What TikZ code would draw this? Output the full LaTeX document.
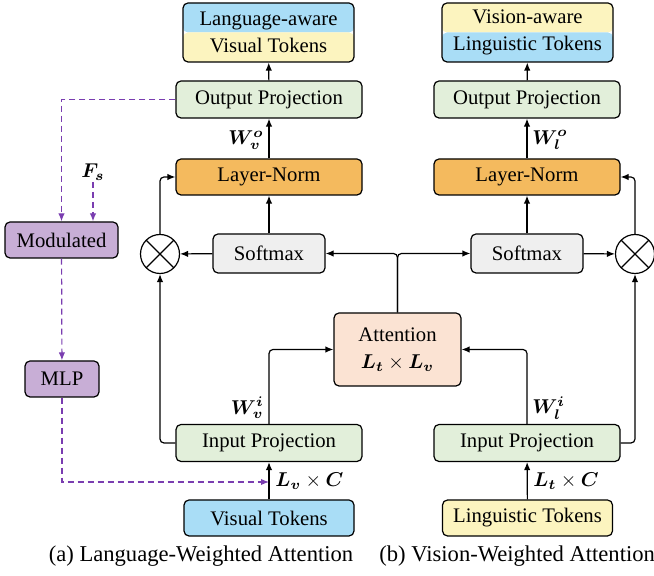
\documentclass[tikz,border=0pt]{standalone}
\usepackage{amsmath}
\usepackage{bm}
\usepackage{fontspec}
\setmainfont{Liberation Serif}
\usetikzlibrary{arrows.meta,calc}

\definecolor{tokblue}{HTML}{A9DDF6}
\definecolor{tokyellow}{HTML}{FCF4BF}
\definecolor{projgreen}{HTML}{E2EFDA}
\definecolor{normorange}{HTML}{F4BA5E}
\definecolor{softgray}{HTML}{EFEFEF}
\definecolor{attnpeach}{HTML}{FBE3D3}
\definecolor{modpurple}{HTML}{C8AED6}
\definecolor{dashpurple}{HTML}{7A3DB0}

\tikzset{
    blk/.style={draw, line width=0.6pt, rounded corners=2.5pt, align=center,
        inner sep=0pt, font=\fontsize{10.35}{13.5}\selectfont},
    proj/.style={blk, fill=projgreen, minimum width=93pt, minimum height=18.5pt},
    lnorm/.style={blk, fill=normorange, minimum width=93pt, minimum height=18pt},
    smax/.style={blk, fill=softgray, minimum width=56pt, minimum height=19.5pt},
    tok/.style={blk, minimum width=85pt, minimum height=18pt},
    outtok/.style={blk, minimum width=85.5pt, minimum height=29.5pt},
    modbox/.style={blk, fill=modpurple, minimum height=18pt},
    mulnode/.style={draw, circle, line width=0.6pt, minimum size=19.5pt, inner sep=0pt,
        path picture={\draw[line width=0.6pt] (path picture bounding box.north west) -- (path picture bounding box.south east)
            (path picture bounding box.north east) -- (path picture bounding box.south west);}},
    arr/.style={-{Latex[length=4pt,width=3.2pt]}, line width=0.6pt, rounded corners=2pt},
    dasharr/.style={-{Latex[length=4pt,width=3.2pt]}, line width=0.6pt, dash pattern=on 3pt off 2pt, dashpurple},
    lbl/.style={font=\fontsize{10.35}{12}\selectfont, inner sep=0.5pt}
}

\begin{document}
\begin{tikzpicture}[x=0.5pt,y=-0.5pt]
                \useasboundingbox (0,0) rectangle (654,576);
                \clip (0,0) rectangle (654,576);

                \node[outtok, path picture={\fill[tokblue] (path picture bounding box.north west) rectangle (path picture bounding box.east);
                    \fill[tokyellow] (path picture bounding box.west) rectangle (path picture bounding box.south east);}]
                    (outL) at (268.5,32.5) {Language-aware\\Visual Tokens};
                \node[outtok, path picture={\fill[tokyellow] (path picture bounding box.north west) rectangle (path picture bounding box.east);
                    \fill[tokblue] (path picture bounding box.west) rectangle (path picture bounding box.south east);}]
                    (outR) at (527.5,32.5) {Vision-aware\\Linguistic Tokens};

                \node[proj] (oprojL) at (269,99.5) {Output Projection};
                \node[proj] (oprojR) at (527,99.5) {Output Projection};
                \node[lnorm] (lnL) at (269,177) {Layer-Norm};
                \node[lnorm] (lnR) at (527,177) {Layer-Norm};
                \node[smax] (softL) at (269,253.5) {Softmax};
                \node[smax] (softR) at (527,253.5) {Softmax};
                \node[mulnode] (mulL) at (160,254) {};
                \node[mulnode] (mulR) at (635,254) {};
                \node[blk, fill=attnpeach, minimum width=63.5pt, minimum height=36.5pt] (attn) at (397.5,349.5)
                    {Attention\\$\bm{L_t}\times\bm{L_v}$};
                \node[proj] (iprojL) at (269,443) {Input Projection};
                \node[proj] (iprojR) at (527,443) {Input Projection};
                \node[tok, fill=tokblue] (vtok) at (269,518) {Visual Tokens};
                \node[tok, fill=tokyellow] (ltok) at (527.5,518) {Linguistic Tokens};

                \node[modbox, minimum width=56.5pt] (mod) at (61.5,240) {Modulated};
                \node[modbox, minimum width=37pt] (mlp) at (62,379) {MLP};
                \node[lbl] (fs) at (93,172) {$\bm{F_s}$};
                \coordinate (fuse) at (269,482);

                \draw[arr] (oprojL) -- (outL);
                \draw[arr] (oprojR) -- (outR);
                \draw[arr] (lnL) -- (oprojL);
                \draw[arr] (lnR) -- (oprojR);
                \node[lbl, anchor=east] (wvo) at (265,140) {$\bm{W_v^o}$};
                \node[lbl, anchor=west] (wlo) at (531,140) {$\bm{W_l^o}$};
                \draw[arr] (softL) -- (lnL);
                \draw[arr] (softR) -- (lnR);
                \draw[arr] (softL) -- (mulL);
                \draw[arr] (softR) -- (mulR);
                \draw[arr] (mulL.north) |- (lnL.west);
                \draw[arr] (mulR.north) |- (lnR.east);
                \draw[arr] (attn.north) |- (softL.east);
                \draw[arr] (attn.north) |- (softR.west);
                \draw[arr] (iprojL.north) |- (attn.west);
                \draw[arr] (iprojR.north) |- (attn.east);
                \node[lbl, anchor=east] (wvi) at (265,408) {$\bm{W_v^i}$};
                \node[lbl, anchor=west] (wli) at (531,408) {$\bm{W_l^i}$};
                \draw[arr] (iprojL.west) -| (mulL.south);
                \draw[arr] (iprojR.east) -| (mulR.south);
                \draw[arr] (vtok) -- (iprojL);
                \draw[arr] (ltok) -- (iprojR);
                \node[lbl, anchor=west] (lvc) at (274,481) {$\bm{L_v}\times\bm{C}$};
                \node[lbl, anchor=west] (ltc) at (532,481) {$\bm{L_t}\times\bm{C}$};

                \draw[dasharr] (oprojL.west) -| (mod.north);
                \draw[dasharr] (fs) -- (fs |- mod.north);
                \draw[dasharr] (mod) -- (mlp);
                \draw[dasharr] (mlp.south) |- (fuse);

                \node[font=\fontsize{11.3}{13}\selectfont] (capA) at (201,556) {(a) Language-Weighted Attention};
                \node[font=\fontsize{11.3}{13}\selectfont, anchor=west, inner sep=0pt] (capB) at (379,556) {(b) Vision-Weighted Attention};
\end{tikzpicture}
\end{document}
